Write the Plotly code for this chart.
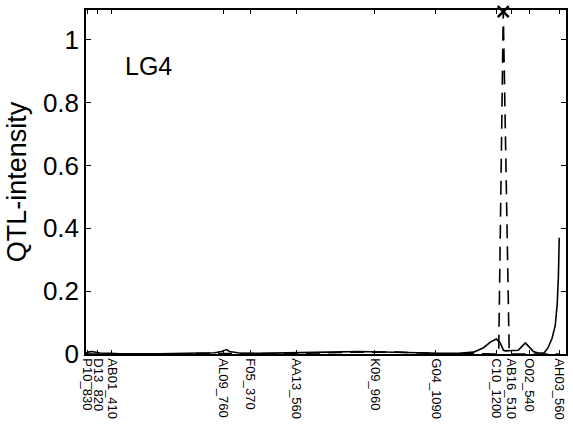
import plotly.graph_objects as go

# Marker map for linkage group 4 (positions in cM)
marker_names = ["P10_830", "D13_820", "AB01_410", "AL09_760", "F05_370", "AA13_560",
                "K09_960", "G04_1090", "C10_1200", "AB16_510", "O02_540", "AH03_560"]
marker_pos = [0.3, 3.0, 6.5, 34.5, 41.3, 52.8, 72.5, 87.8, 103.0, 106.8, 111.3, 118.8]

# QTL intensity profile (solid curve)
solid_x = [0.0, 0.5, 1.5, 2.5, 3.5, 6.0, 8.5, 18.5, 28.5, 32.3, 34.0, 35.3, 36.0, 38.5,
           43.5, 53.5, 61.0, 68.5, 76.0, 83.5, 88.5, 93.5, 97.3, 99.8, 101.5, 103.0,
           104.0, 104.8, 105.3, 107.0, 108.5, 109.5, 110.3, 111.3, 112.3, 113.5, 115.0,
           116.0, 117.0, 117.8, 118.3, 118.6, 118.8]
solid_y = [0.003, 0.006, 0.008, 0.006, 0.003, 0.002, 0.001, 0.001, 0.002, 0.004, 0.008,
           0.014, 0.008, 0.003, 0.002, 0.003, 0.006, 0.008, 0.007, 0.004, 0.002, 0.002,
           0.006, 0.02, 0.038, 0.048, 0.035, 0.012, 0.01, 0.01, 0.012, 0.025, 0.035,
           0.022, 0.008, 0.003, 0.003, 0.02, 0.05, 0.09, 0.16, 0.25, 0.37]

# Second profile (dashed curve) with its sharp maximum
dashed_x = [0.0, 53.5, 68.5, 78.5, 88.5, 102.0, 103.6, 104.75, 106.25, 108.0, 118.8]
dashed_y = [0.0, 0.002, 0.006, 0.006, 0.001, 0.001, 0.0, 1.09, 0.0, 0.0, 0.0]

peak_x = [104.75]
peak_y = [1.09]

fig = go.Figure()
fig.add_trace(go.Scatter(x=solid_x, y=solid_y, mode="lines",
                         line=dict(color="black", width=1.6), showlegend=False))
fig.add_trace(go.Scatter(x=dashed_x, y=dashed_y, mode="lines",
                         line=dict(color="black", width=1.6, dash="14px,8px"),
                         showlegend=False))
fig.add_trace(go.Scatter(x=peak_x, y=peak_y, mode="markers",
                         marker=dict(symbol="x-thin", size=11,
                                     line=dict(color="black", width=2.5)),
                         cliponaxis=False, showlegend=False))

fig.add_annotation(x=9.25, y=0.917, text="LG4", showarrow=False,
                   font=dict(size=25, color="black"), xanchor="left")

font_family = "Liberation Sans, Arial, sans-serif"
fig.update_layout(
    width=573, height=430,
    margin=dict(l=86, r=5, t=10, b=76),
    paper_bgcolor="white", plot_bgcolor="white",
    font=dict(family=font_family, color="black"),
    xaxis=dict(range=[0, 120.5], tickmode="array", tickvals=marker_pos,
               ticktext=marker_names, tickangle=90, ticks="inside", ticklen=4,
               tickcolor="black", tickfont=dict(size=13), showgrid=False,
               zeroline=False, showline=True, linecolor="black", linewidth=1.5,
               mirror="ticks"),
    yaxis=dict(range=[0, 1.095], tickmode="array",
               tickvals=[0, 0.2, 0.4, 0.6, 0.8, 1],
               ticktext=["0", "0.2", "0.4", "0.6", "0.8", "1"],
               ticks="inside", ticklen=5, tickcolor="black",
               tickfont=dict(size=26), showgrid=False, zeroline=False,
               showline=True, linecolor="black", linewidth=1.5, mirror="ticks",
               title=dict(text="QTL-intensity", font=dict(size=27), standoff=8)),
)

fig.write_html("out.html")
